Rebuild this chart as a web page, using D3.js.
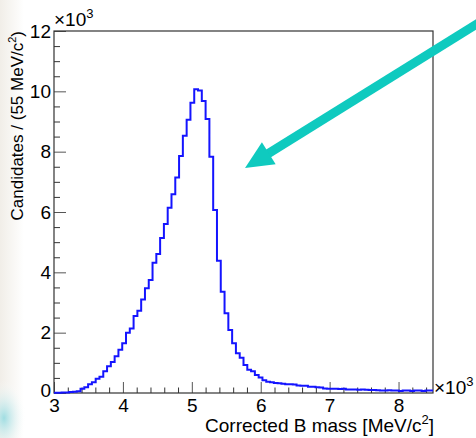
<!DOCTYPE html>
<html>
<head>
<meta charset="utf-8">
<script src="https://cdn.jsdelivr.net/npm/d3@7"></script>
<style>
  html, body { margin: 0; padding: 0; background: #fff; }
  svg text { font-family: "Liberation Sans", Arial, sans-serif; fill: #000; }
</style>
</head>
<body>
<div id="viz"></div>
<script>
// histogram: 100 bins of 55 MeV from 3000 to 8500 MeV, counts in units of 10^3
var binStart = 3.0, binWidth = 0.055;
var counts = [
  0.01, 0.01, 0.02, 0.02, 0.03, 0.04, 0.06, 0.14, 0.19, 0.29,
  0.36, 0.47, 0.54, 0.72, 0.89, 1.03, 1.22, 1.43, 1.65, 2.00,
  2.14, 2.55, 2.73, 3.10, 3.47, 3.75, 4.32, 4.61, 5.14, 5.60,
  6.14, 6.59, 7.14, 7.86, 8.53, 9.06, 9.62, 10.07, 10.03, 9.68,
  9.08, 7.83, 6.07, 4.38, 3.36, 2.64, 2.09, 1.65, 1.32, 1.17,
  0.93, 0.77, 0.72, 0.60, 0.51, 0.42, 0.37, 0.36, 0.33, 0.32,
  0.31, 0.29, 0.29, 0.28, 0.25, 0.24, 0.24, 0.21, 0.21, 0.19,
  0.18, 0.15, 0.14, 0.14, 0.14, 0.13, 0.14, 0.12, 0.12, 0.12,
  0.11, 0.12, 0.11, 0.10, 0.10, 0.09, 0.08, 0.08, 0.09, 0.08,
  0.08, 0.07, 0.08, 0.08, 0.07, 0.08, 0.08, 0.07, 0.08, 0.08
];
var xTicks = [3, 4, 5, 6, 7, 8];
var yTicks = [0, 2, 4, 6, 8, 10, 12];
var xTitle = "Corrected B mass [MeV/c";
var yTitle = "Candidates / (55 MeV/c";

var w = 476, h = 438;
var svg = d3.select("#viz").append("svg")
    .attr("width", w)
    .attr("height", h);

// faint slide background at the left edge
var defs = svg.append("defs");
var lg = defs.append("linearGradient").attr("id", "leftfade").attr("x1", 0).attr("x2", 1);
lg.append("stop").attr("offset", "0%").attr("stop-color", "#f1eee8");
lg.append("stop").attr("offset", "100%").attr("stop-color", "#ffffff");
var rg = defs.append("radialGradient").attr("id", "cyanblob");
rg.append("stop").attr("offset", "0%").attr("stop-color", "#9fdde2");
rg.append("stop").attr("offset", "100%").attr("stop-color", "#ffffff").attr("stop-opacity", 0);
svg.append("rect").attr("x", 0).attr("y", 0).attr("width", 24).attr("height", h)
    .style("fill", "url(#leftfade)");
svg.append("ellipse").attr("cx", 4).attr("cy", 418).attr("rx", 22).attr("ry", 38)
    .style("fill", "url(#cyanblob)");

var x = d3.scaleLinear().domain([3, 8.5]).range([54, 433]);
var y = d3.scaleLinear().domain([0, 12]).range([393, 31]);

// minor ticks
var xMinor = d3.range(3, 8.5001, 0.2).filter(function(v){ return Math.abs(v - Math.round(v)) > 0.01; });
var yMinor = d3.range(0, 12.001, 0.5).filter(function(v){ return Math.abs(v/2 - Math.round(v/2)) > 0.01; });

svg.append("g")
    .attr("transform", "translate(0,393)")
    .call(d3.axisBottom(x).tickValues(xMinor).tickSizeInner(-5.5).tickSizeOuter(0).tickFormat(""))
    .call(function(g){ g.select(".domain").remove(); g.selectAll("line").attr("stroke", "#333"); });

svg.append("g")
    .attr("transform", "translate(54,0)")
    .call(d3.axisLeft(y).tickValues(yMinor).tickSizeInner(-6).tickSizeOuter(0).tickFormat(""))
    .call(function(g){ g.select(".domain").remove(); g.selectAll("line").attr("stroke", "#333"); });

var xAxis = svg.append("g")
    .attr("transform", "translate(0,393)")
    .call(d3.axisBottom(x).tickValues(xTicks).tickSizeInner(-11).tickSizeOuter(0)
      .tickPadding(6).tickFormat(d3.format("d")));
xAxis.select(".domain").remove();
xAxis.selectAll("line").attr("stroke", "#555");
xAxis.selectAll("text").style("font-size", "19px").attr("fill", "#000");

var yAxis = svg.append("g")
    .attr("transform", "translate(54,0)")
    .call(d3.axisLeft(y).tickValues(yTicks).tickSizeInner(-12).tickSizeOuter(0)
      .tickPadding(3).tickFormat(d3.format("d")));
yAxis.select(".domain").remove();
yAxis.selectAll("line").attr("stroke", "#555");
yAxis.selectAll("text").style("font-size", "19px").attr("fill", "#000");
yAxis.selectAll("text").filter(function(d){ return d === 0; }).attr("dy", "0.2em");

// frame
svg.append("rect")
    .attr("x", x(3)).attr("y", y(12))
    .attr("width", x(8.5) - x(3)).attr("height", y(0) - y(12))
    .style("fill", "none").style("stroke", "#333").style("stroke-width", 1.2);

// histogram outline
var pts = counts.map(function(c, i){ return [binStart + i*binWidth, c]; });
pts.push([binStart + counts.length*binWidth, counts[counts.length-1]]);
var line = d3.line()
    .x(function(d){ return x(d[0]); })
    .y(function(d){ return y(d[1]); })
    .curve(d3.curveStepAfter);
svg.append("path")
    .attr("d", line(pts))
    .style("fill", "none")
    .style("stroke", "#1414ff")
    .style("stroke-width", 2);

// exponent labels
var ex = svg.append("text").attr("x", 54).attr("y", 26).style("font-size", "19px");
ex.append("tspan").text("\u00d710");
ex.append("tspan").attr("dy", -8).style("font-size", "13px").text("3");

var ex2 = svg.append("text").attr("x", 434).attr("y", 394).style("font-size", "19px");
ex2.append("tspan").text("\u00d710");
ex2.append("tspan").attr("dy", -8).style("font-size", "13px").text("3");

// axis titles
var xt = svg.append("text").attr("x", 434).attr("y", 432)
    .attr("text-anchor", "end").style("font-size", "19px");
xt.append("tspan").text(xTitle);
xt.append("tspan").attr("dy", -8).style("font-size", "13px").text("2");
xt.append("tspan").attr("dy", 8).text("]");

var yt = svg.append("text")
    .attr("transform", "translate(23,31) rotate(-90)")
    .attr("text-anchor", "end").style("font-size", "17px");
yt.append("tspan").text(yTitle);
yt.append("tspan").attr("dy", -7).style("font-size", "11px").text("2");
yt.append("tspan").attr("dy", 7).text(")");

// arrow pointing at the peak
var arrowColor = "#0fcabf";
var p0 = [480, 22], p1 = [245, 168];
var ang = Math.atan2(p1[1] - p0[1], p1[0] - p0[0]);
var headLen = 28, headW = 13;
var bx = p1[0] - headLen*Math.cos(ang), by = p1[1] - headLen*Math.sin(ang);
svg.append("line")
    .attr("x1", p0[0]).attr("y1", p0[1])
    .attr("x2", bx + 4*Math.cos(ang)).attr("y2", by + 4*Math.sin(ang))
    .style("stroke", arrowColor).style("stroke-width", 9);
svg.append("polygon")
    .attr("points", [
      [p1[0], p1[1]],
      [bx - headW*Math.sin(ang), by + headW*Math.cos(ang)],
      [bx + headW*Math.sin(ang), by - headW*Math.cos(ang)]
    ].map(function(p){ return p.join(","); }).join(" "))
    .style("fill", arrowColor);
</script>
</body>
</html>
